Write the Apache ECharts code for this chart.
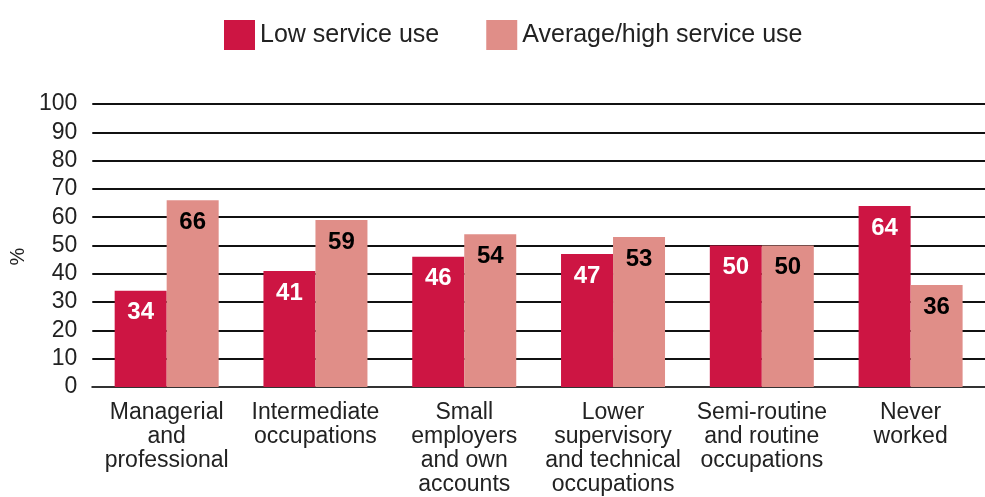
<!DOCTYPE html>
<html>
<head>
<meta charset="utf-8">
<script src="https://cdn.jsdelivr.net/npm/echarts@6/dist/echarts.min.js"></script>
<style>html,body{margin:0;padding:0;background:#fff;}#c{width:985px;height:497px;}</style>
</head>
<body>
<div id="c"></div>
<script>
var categories = ['Managerial\nand\nprofessional', 'Intermediate\noccupations', 'Small\nemployers\nand own\naccounts', 'Lower\nsupervisory\nand technical\noccupations', 'Semi-routine\nand routine\noccupations', 'Never\nworked'];
var lowUse = [34, 41, 46, 47, 50, 64];
var highUse = [66, 59, 54, 53, 50, 36];
var seriesNames = ['Low service use', 'Average/high service use'];
var yTicks = [0, 10, 20, 30, 40, 50, 60, 70, 80, 90, 100];

var FONT = '"Liberation Sans", Arial, sans-serif';
var chart = echarts.init(document.getElementById('c'), null, {renderer: 'canvas'});
chart.setOption({
  animation: false,
  textStyle: {fontFamily: FONT},
  legend: {
    left: 219, top: 15,
    itemWidth: 31, itemHeight: 30, itemGap: 47,
    icon: 'rect',
    textStyle: {fontSize: 25, color: '#222', fontFamily: FONT},
    data: seriesNames
  },
  grid: {left: 87, width: 912, top: 104, height: 285.5, containLabel: false},
  xAxis: {
    type: 'category',
    data: categories,
    axisLine: {show: true, lineStyle: {color: '#333', width: 2}},
    axisTick: {show: false},
    axisLabel: {fontSize: 23, lineHeight: 24, color: '#222', margin: 14, interval: 0, fontFamily: FONT}
  },
  yAxis: {
    type: 'value',
    min: 0, max: 100, interval: 10,
    name: '%',
    nameLocation: 'middle',
    nameRotate: 90,
    nameGap: 57,
    nameTextStyle: {fontSize: 20, color: '#222', fontFamily: FONT, padding: [0, 0, 0, -22]},
    axisLine: {show: false},
    axisTick: {show: false},
    axisLabel: {fontSize: 23, color: '#222', margin: 15, fontFamily: FONT,
      formatter: function (v) { return yTicks.indexOf(v) >= 0 ? String(v) : ''; }},
    splitLine: {show: true, lineStyle: {color: '#111', width: 2}}
  },
  series: [
    {
      name: seriesNames[0], type: 'bar', data: lowUse,
      barWidth: 52, barGap: '0%',
      itemStyle: {color: '#CD1543'},
      label: {show: true, position: 'insideTop', distance: 10, fontSize: 24, fontWeight: 'bold', color: '#fff', fontFamily: FONT}
    },
    {
      name: seriesNames[1], type: 'bar', data: highUse,
      barWidth: 52, barGap: '0%',
      itemStyle: {color: '#E08E88'},
      label: {show: true, position: 'insideTop', distance: 10, fontSize: 24, fontWeight: 'bold', color: '#000', fontFamily: FONT}
    }
  ]
});
</script>
</body>
</html>
